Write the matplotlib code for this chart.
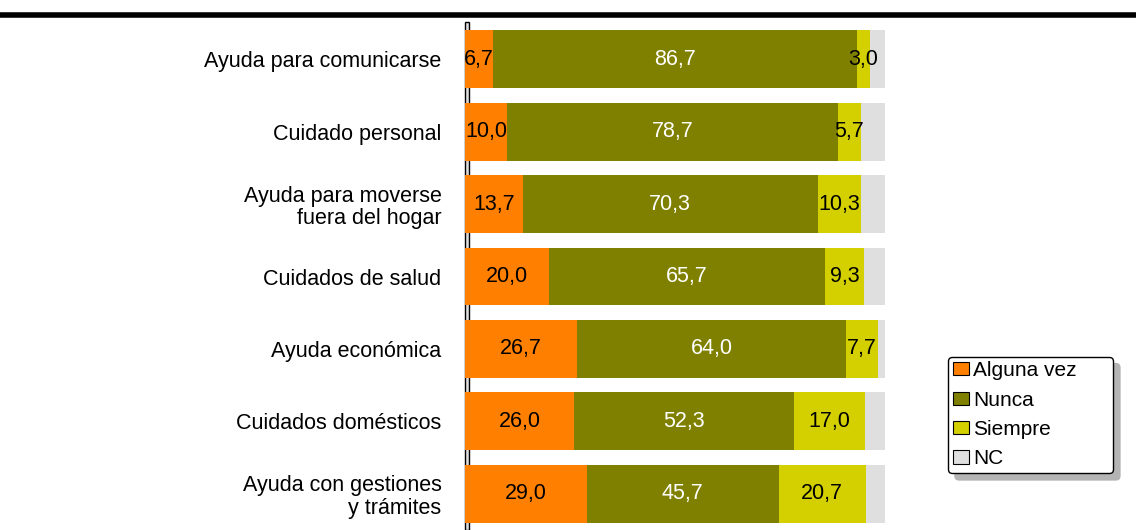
import matplotlib
matplotlib.use("Agg")
import matplotlib.pyplot as plt
from matplotlib.patches import Rectangle
import numpy as np

plt.rcParams['font.family'] = ['Liberation Sans', 'DejaVu Sans']

categories = ["Ayuda para comunicarse", "Cuidado personal", "Ayuda para moverse\nfuera del hogar",
              "Cuidados de salud", "Ayuda económica", "Cuidados domésticos",
              "Ayuda con gestiones\ny trámites"]
series_names = ["Alguna vez", "Nunca", "Siempre", "NC"]
alguna_vez = [6.7, 10.0, 13.7, 20.0, 26.7, 26.0, 29.0]
nunca = [86.7, 78.7, 70.3, 65.7, 64.0, 52.3, 45.7]
siempre = [3.0, 5.7, 10.3, 9.3, 7.7, 17.0, 20.7]
nc = [3.6, 5.6, 5.7, 5.0, 1.6, 4.7, 4.6]

colors = ["#FF8000", "#808000", "#D4D000", "#DFDFDF"]
label_colors = ["black", "white", "black", None]

fig = plt.figure(figsize=(11.36, 5.30), dpi=100)
ax = fig.add_axes([465/1136, 0.0, 420/1136, 1 - 23/530])

y = np.arange(len(categories))
left = np.zeros(len(categories))
handles = []
for vals, col, lc, name in zip([alguna_vez, nunca, siempre, nc], colors, label_colors, series_names):
    vals = np.array(vals)
    bars = ax.barh(y, vals, left=left, height=0.8, color=col, edgecolor='none', label=name)
    handles.append(bars)
    if lc is not None:
        for yi, l, v in zip(y, left, vals):
            ax.text(l + v / 2, yi, f"{v:.1f}".replace('.', ','), ha='center', va='center',
                    color=lc, fontsize=15.5)
    left = left + vals

ax.set_xlim(0, 100)
ax.set_ylim(6.5, -0.5)
ax.set_yticks(y)
ax.set_yticklabels(categories, fontsize=15.5, ha='right', linespacing=1.1)
ax.tick_params(axis='y', length=0, pad=17)
ax.set_xticks([])
for s in ax.spines.values():
    s.set_visible(False)

# axis "wall"
fig.patches.append(Rectangle((465/1136, 0), 4/1136, 1 - 22/530, transform=fig.transFigure,
                             facecolor='#DDDDDD', edgecolor='black', linewidth=1, zorder=0))
ax.set_zorder(2)
ax.patch.set_visible(False)

# top black line
fig.add_artist(plt.Line2D([0, 1], [1 - 14.5/530, 1 - 14.5/530], transform=fig.transFigure,
                          color='black', linewidth=4))

leg = fig.legend(handles=handles, labels=series_names, loc='lower left',
                 bbox_to_anchor=(948/1136, 1 - 473/530, 165/1136, 116/530), mode='expand',
                 borderaxespad=0,
                 fontsize=15, frameon=True, fancybox=True,
                 shadow={'ox': 5, 'oy': -5, 'color': '#B4B4B4', 'alpha': 1},
                 handlelength=0.8, handleheight=0.6, handletextpad=0.2,
                 labelspacing=0.5, borderpad=0.22)
leg.get_frame().set_edgecolor('black')
leg.get_frame().set_linewidth(1)
leg.get_frame().set_alpha(1)
for h in leg.legend_handles:
    h.set_edgecolor('black')
    h.set_linewidth(0.8)

fig.savefig("out.png", dpi=100)
